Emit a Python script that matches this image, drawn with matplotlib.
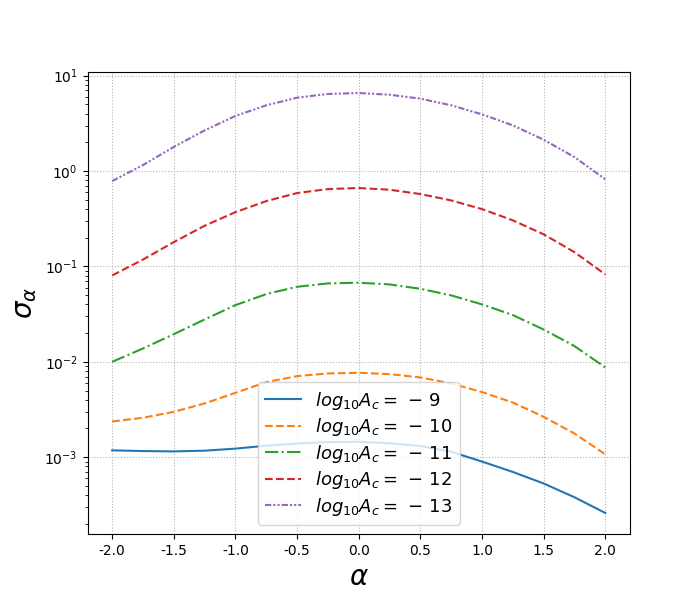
import matplotlib
matplotlib.use('Agg')
import matplotlib.pyplot as plt
import numpy as np

plt.rcParams['axes.unicode_minus'] = False

# ── Data (sigma_alpha vs alpha) ───────────────────────────────────────────────
alpha = [-2.0, -1.75, -1.5, -1.25, -1.0, -0.75, -0.5, -0.25, 0.0,
         0.25, 0.5, 0.75, 1.0, 1.25, 1.5, 1.75, 2.0]

sigma_m9 = [0.00118, 0.00116, 0.00115, 0.00117, 0.00123, 0.00132, 0.00139, 0.00144, 0.00145,
            0.00140, 0.00131, 0.00114, 0.00090, 0.00070, 0.00053, 0.00038, 0.00026]
sigma_m10 = [0.00237, 0.00259, 0.00299, 0.00366, 0.00473, 0.00612, 0.00708, 0.00755, 0.00767,
             0.00743, 0.00686, 0.00593, 0.00481, 0.00374, 0.00265, 0.00177, 0.00107]
sigma_m11 = [0.0100, 0.0138, 0.0195, 0.0278, 0.0393, 0.0513, 0.0612, 0.0664, 0.0675,
             0.0648, 0.0583, 0.0497, 0.0400, 0.0309, 0.0218, 0.0146, 0.00873]
sigma_m12 = [0.0805, 0.118, 0.180, 0.267, 0.371, 0.484, 0.588, 0.647, 0.664,
             0.637, 0.574, 0.492, 0.399, 0.304, 0.217, 0.141, 0.0824]
sigma_m13 = [0.785, 1.156, 1.79, 2.67, 3.78, 4.89, 5.88, 6.43, 6.58,
             6.31, 5.74, 4.89, 3.93, 3.01, 2.13, 1.40, 0.818]

labels = [r'$log_{10}A_c=\,-\,9$', r'$log_{10}A_c=\,-\,10$', r'$log_{10}A_c=\,-\,11$',
          r'$log_{10}A_c=\,-\,12$', r'$log_{10}A_c=\,-\,13$']

# ── Plot ──────────────────────────────────────────────────────────────────────
fig, ax = plt.subplots(figsize=(7, 6), dpi=100)

ax.plot(alpha, sigma_m9, color='tab:blue', linestyle='-', label=labels[0])
ax.plot(alpha, sigma_m10, color='tab:orange', linestyle='--', label=labels[1])
ax.plot(alpha, sigma_m11, color='tab:green', linestyle='-.', label=labels[2])
ax.plot(alpha, sigma_m12, color='tab:red', linestyle='--', label=labels[3])
ax.plot(alpha, sigma_m13, color='tab:purple', linestyle=(0, (3, 1, 1, 1, 1, 1)),
        label=labels[4])

ax.set_yscale('log')
ax.set_xticks(np.arange(-2.0, 2.01, 0.5))
ax.set_xticklabels([f'{v:.1f}' for v in np.arange(-2.0, 2.01, 0.5)])
ax.grid(True, linestyle=':', color='0.7')
ax.set_xlabel(r'$\alpha$', fontsize=20)
ax.set_ylabel(r'$\sigma_\alpha$', fontsize=20)
ax.legend(loc='lower center', fontsize=13, labelspacing=0.25)

plt.savefig('out.png', dpi=100)
plt.close(fig)
